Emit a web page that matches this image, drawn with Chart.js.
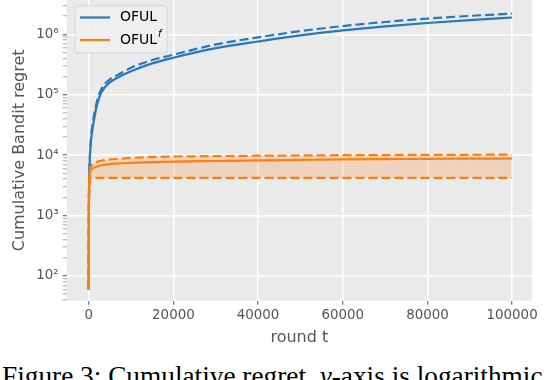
<!DOCTYPE html>
<html>
<head>
<meta charset="utf-8">
<script src="https://cdn.jsdelivr.net/npm/chart.js@4/dist/chart.umd.min.js"></script>
<style>
  body { margin: 0; background: #fff; width: 544px; height: 380px; overflow: hidden; position: relative; }
  #wrap { position: absolute; left: 0; top: 0; width: 544px; height: 352px; }
  #caption { position: absolute; left: 2px; top: 363px; font-family: "Liberation Serif", "Times New Roman", serif; font-size: 27.3px; line-height: 27.3px; white-space: nowrap; color: #000; }
</style>
</head>
<body>
<div id="wrap"><canvas id="regretChart" width="544" height="352"></canvas></div>
<div id="caption">Figure 3: Cumulative regret. <i>y</i>-axis is logarithmic</div>
<script>
// rounds at which the curves are sampled
var rounds = [0, 50, 150, 300, 600, 1000, 1500, 2000, 3000, 5000, 7000, 10000, 15000, 20000,
              30000, 40000, 50000, 60000, 70000, 80000, 90000, 100000];

// OFUL: mean (solid) and upper band (dashed)
var ofulMean = [60, 1500, 5000, 10000, 19000, 30000, 48000, 70000, 110000, 160000, 195000, 245000, 330000, 410000,
                590000, 760000, 960000, 1160000, 1350000, 1540000, 1720000, 1900000];
var ofulUpper = [60, 1500, 5000, 11000, 22000, 36000, 56000, 80000, 125000, 180000, 215000, 280000, 375000, 460000,
                 680000, 890000, 1130000, 1370000, 1600000, 1820000, 2020000, 2200000];

// OFUL^f: mean (solid), upper and lower band (dashed)
var ofulfMean = [60, 1200, 3500, 5200, 5800, 6100, 6300, 6500, 6800, 7100, 7300, 7450, 7650, 7800,
                 8000, 8200, 8350, 8500, 8600, 8700, 8750, 8800];
var ofulfUpper = [60, 1200, 4000, 5800, 6600, 7200, 7500, 7800, 8100, 8500, 8700, 9000, 9300, 9500,
                  9650, 9800, 9900, 10000, 10050, 10100, 10150, 10200];
var ofulfLower = [60, 1200, 3000, 4200, 4200, 4200, 4200, 4200, 4200, 4200, 4200, 4200, 4200, 4200,
                  4200, 4200, 4200, 4200, 4200, 4200, 4200, 4200];

var xTicks = [0, 20000, 40000, 60000, 80000, 100000];
var legendLabels = ['OFUL', 'OFUL'];

var blue = '#2a78b8';
var orange = '#ff7f0e';
var textColor = '#555555';

function pts(vals) {
    return vals.map(function (v, i) { return { x: rounds[i], y: v }; });
}

var supers = { '0': '\u2070', '1': '\u00b9', '2': '\u00b2', '3': '\u00b3', '4': '\u2074', '5': '\u2075', '6': '\u2076', '7': '\u2077', '8': '\u2078', '9': '\u2079' };

// all log ticks (major decades + minor 2..9)
var yAllTicks = [];
for (var e = 1; e <= 6; e++) {
    for (var m = 1; m <= 9; m++) {
        var v = m * Math.pow(10, e);
        if (v >= 39 && v <= 3.7e6) yAllTicks.push(v);
    }
}

function isDecade(v) {
    var l = Math.log10(v);
    return Math.abs(l - Math.round(l)) < 1e-9;
}

var bgPlugin = {
    id: 'bg',
    beforeDraw: function (chart) {
        var a = chart.chartArea, c = chart.ctx;
        c.save();
        c.fillStyle = '#eaeaea';
        c.fillRect(a.left, a.top, a.right - a.left, a.bottom - a.top);
        c.restore();
    }
};

var legendPlugin = {
    id: 'boxLegend',
    afterDraw: function (chart) {
        var c = chart.ctx;
        c.save();
        // box
        var bx = 75, by = 6, bw = 92, bh = 47, r = 3;
        c.beginPath();
        c.moveTo(bx + r, by);
        c.arcTo(bx + bw, by, bx + bw, by + bh, r);
        c.arcTo(bx + bw, by + bh, bx, by + bh, r);
        c.arcTo(bx, by + bh, bx, by, r);
        c.arcTo(bx, by, bx + bw, by, r);
        c.closePath();
        c.fillStyle = 'rgba(240,240,240,0.85)';
        c.fill();
        c.strokeStyle = '#d6d6d6';
        c.lineWidth = 1;
        c.stroke();
        // entries
        var colors = [blue, orange];
        var ys = [17.5, 40];
        c.font = '14px "DejaVu Sans"';
        c.textBaseline = 'middle';
        for (var i = 0; i < 2; i++) {
            c.strokeStyle = colors[i];
            c.lineWidth = 2.2;
            c.beginPath();
            c.moveTo(80, ys[i]);
            c.lineTo(110, ys[i]);
            c.stroke();
            c.fillStyle = '#000';
            c.fillText(legendLabels[i], 120, ys[i]);
        }
        var w = c.measureText(legendLabels[1]).width;
        c.font = 'italic 10px "DejaVu Sans"';
        c.fillText('f', 120 + w + 1, ys[1] - 6);
        c.restore();
    }
};

var ctx = document.getElementById('regretChart').getContext('2d');
var chart = new Chart(ctx, {
    type: 'line',
    data: {
        datasets: [
            { label: 'OFUL', data: pts(ofulMean), borderColor: blue, borderWidth: 2.2, order: 5 },
            { label: 'OFUL upper', data: pts(ofulUpper), borderColor: blue, borderWidth: 2.2, borderDash: [9, 4], order: 4 },
            { label: 'OFULf upper', data: pts(ofulfUpper), borderColor: orange, borderWidth: 2.2, borderDash: [9, 4],
              fill: '+1', backgroundColor: 'rgba(255,127,14,0.2)', order: 3 },
            { label: 'OFULf lower', data: pts(ofulfLower), borderColor: orange, borderWidth: 2.2, borderDash: [9, 4], order: 2 },
            { label: 'OFULf', data: pts(ofulfMean), borderColor: orange, borderWidth: 2.2, order: 1 }
        ]
    },
    options: {
        responsive: false,
        animation: false,
        devicePixelRatio: 1,
        layout: { padding: { left: 0, right: 12, top: 0, bottom: 0 } },
        elements: {
            point: { radius: 0 },
            line: { cubicInterpolationMode: 'monotone', fill: false }
        },
        plugins: {
            legend: { display: false },
            tooltip: { enabled: false }
        },
        scales: {
            x: {
                type: 'linear',
                min: -5200,
                max: 104700,
                afterBuildTicks: function (scale) {
                    scale.ticks = xTicks.map(function (v) { return { value: v }; });
                },
                afterFit: function (scale) {
                    scale.height = 51.3;
                    scale.paddingLeft = 0;
                    scale.paddingRight = 0;
                },
                border: { display: false },
                grid: { color: '#ffffff', lineWidth: 1.5, tickColor: textColor, tickLength: 4, tickWidth: 1 },
                ticks: {
                    color: textColor,
                    font: { family: 'DejaVu Sans', size: 13.4 },
                    padding: 3,
                    maxRotation: 0,
                    autoSkip: false,
                    callback: function (v) { return String(v); }
                },
                title: {
                    display: true,
                    text: 'round t',
                    color: textColor,
                    font: { family: 'DejaVu Sans', size: 16 },
                    padding: { top: 0, bottom: 5 }
                }
            },
            y: {
                type: 'logarithmic',
                min: 39,
                max: 3.7e6,
                afterBuildTicks: function (scale) {
                    scale.ticks = yAllTicks.map(function (v) { return { value: v }; });
                },
                afterFit: function (scale) {
                    scale.width = 66.7;
                    scale.paddingTop = 0;
                    scale.paddingBottom = 0;
                },
                border: { display: false },
                grid: {
                    color: function (c) { return c.tick && isDecade(c.tick.value) ? '#ffffff' : 'rgba(0,0,0,0)'; },
                    lineWidth: 1.5,
                    tickColor: function (c) { return c.tick && isDecade(c.tick.value) ? textColor : '#8a8a8a'; },
                    tickWidth: function (c) { return c.tick && isDecade(c.tick.value) ? 1 : 0.7; },
                    tickLength: 4
                },
                ticks: {
                    color: textColor,
                    font: { family: 'DejaVu Sans', size: 13.4 },
                    padding: 4,
                    autoSkip: false,
                    callback: function (v) {
                        if (!isDecade(v)) return '';
                        var exp = String(Math.round(Math.log10(v)));
                        return '10' + exp.split('').map(function (d) { return supers[d]; }).join('');
                    }
                },
                title: {
                    display: true,
                    text: 'Cumulative Bandit regret',
                    color: textColor,
                    font: { family: 'DejaVu Sans', size: 16 },
                    padding: { top: 10, bottom: 0 }
                }
            }
        }
    },
    plugins: [bgPlugin, legendPlugin]
});
</script>
</body>
</html>
